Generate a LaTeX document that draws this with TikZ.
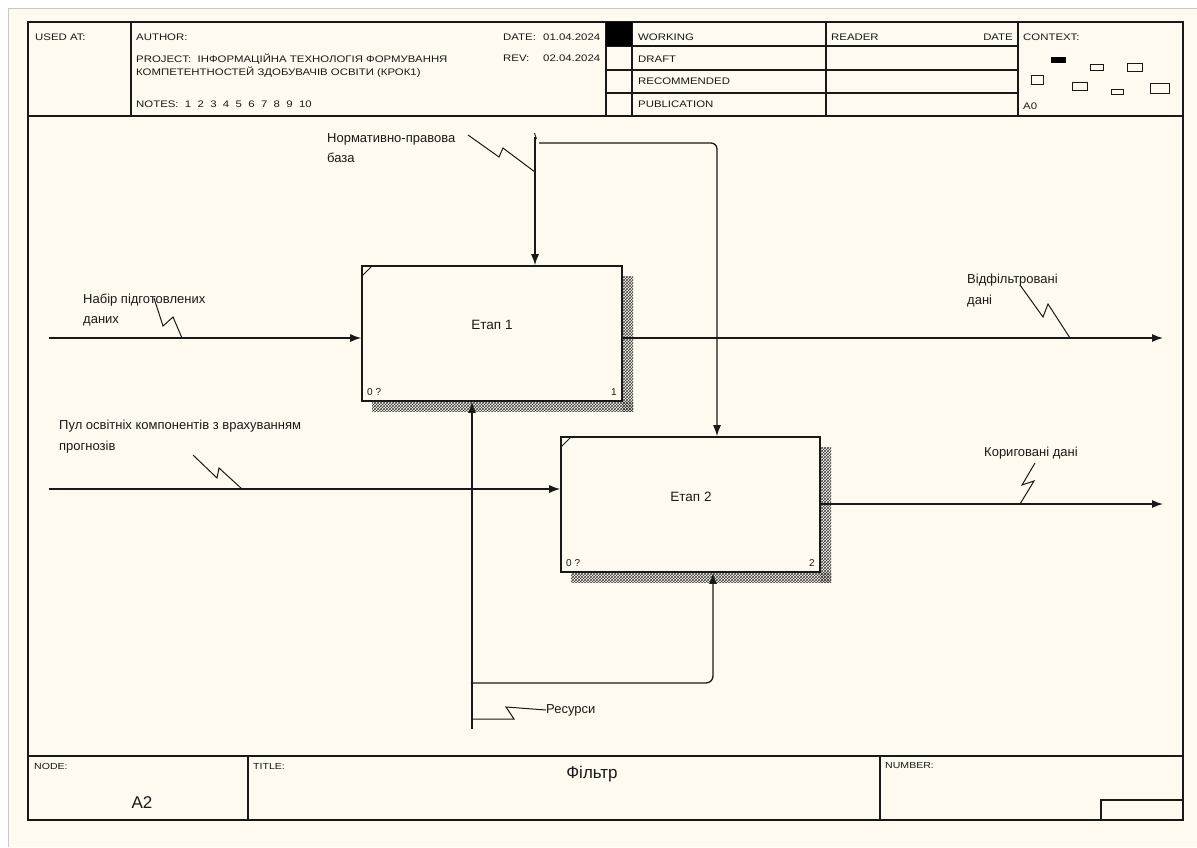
\documentclass[tikz,border=0pt]{standalone}
\usepackage{fontspec}
\setmainfont{Liberation Sans}
\usetikzlibrary{arrows.meta,patterns}
\definecolor{paper}{RGB}{255,250,240}
\definecolor{ink}{RGB}{25,25,25}
\definecolor{pageedge}{RGB}{200,200,200}
\newcommand\hx[1]{\scalebox{1.2}[1]{#1}}
\tikzset{
  frameline/.style={draw=ink, line width=1.6pt},
  cellline/.style={draw=ink, line width=1.3pt},
  hdr/.style={font=\fontsize{9.5}{11}\selectfont, inner sep=0pt, anchor=west, text=ink},
  ftr/.style={font=\fontsize{8.8}{10}\selectfont, inner sep=0pt, anchor=west, text=ink},
  big/.style={font=\fontsize{17}{20}\selectfont, inner sep=0pt, text=ink},
  lbl/.style={font=\fontsize{13}{20.5}\selectfont, inner sep=0pt, anchor=north west, align=left, text=ink},
  actbox/.style={draw=ink, line width=1.6pt, fill=paper, inner sep=0pt},
  acttext/.style={font=\fontsize{13.5}{16}\selectfont, inner sep=0pt, text=ink},
  boxno/.style={font=\fontsize{10}{12}\selectfont, inner sep=0pt, text=ink},
  arr/.style={draw=ink, line width=1.3pt, -{Latex[length=11pt,width=8pt]}},
  squig/.style={draw=ink, line width=1pt},
  hatch/.style={pattern=crosshatch, pattern color=black!75},
}
\begin{document}
\begin{tikzpicture}[x=1pt,y=-1pt]
\useasboundingbox (0,0) rectangle (1197,847);
\fill[white] (0,0) rectangle (1197,847);
\fill[paper] (8,8) rectangle (1197,847);
\draw[pageedge, line width=0.8pt] (8,847) -- (8,8) -- (1197,8);

% ---------- frame ----------
\draw[frameline] (28,22) rectangle (1183,820);
\draw[frameline] (28,116) -- (1183,116);
\draw[frameline] (28,756) -- (1183,756);
% header columns
\foreach \xx in {131,606,632,826,1018} \draw[cellline] (\xx,22) -- (\xx,116);
\foreach \yy in {46,70,93} \draw[cellline] (606,\yy) -- (1018,\yy);
\fill[black] (606,22) rectangle (632,46);
% footer columns
\draw[cellline] (248,756) -- (248,820);
\draw[cellline] (880,756) -- (880,820);
\draw[cellline] (1101,820) -- (1101,800) -- (1183,800);

% ---------- header texts ----------
\node[hdr] (usedat) at (35,37) {\hx{USED AT:}};
\node[hdr] (author) at (136,37) {\hx{AUTHOR:}};
\node[hdr] (proj1) at (136,59) {\hx{PROJECT:\ \ ІНФОРМАЦІЙНА ТЕХНОЛОГІЯ ФОРМУВАННЯ}};
\node[hdr] (proj2) at (136,72) {\hx{КОМПЕТЕНТНОСТЕЙ ЗДОБУВАЧІВ ОСВІТИ (КРОК1)}};
\node[hdr] (notes) at (136,104) {\hx{NOTES:\ \ 1\ \ 2\ \ 3\ \ 4\ \ 5\ \ 6\ \ 7\ \ 8\ \ 9\ \ 10}};
\node[hdr] (datel) at (503,37) {\hx{DATE:}};
\node[hdr] (datev) at (543,37) {\hx{01.04.2024}};
\node[hdr] (revl) at (503,58) {\hx{REV:}};
\node[hdr] (revv) at (543,58) {\hx{02.04.2024}};
\node[hdr] (working) at (638,37) {\hx{WORKING}};
\node[hdr] (draft) at (638,59) {\hx{DRAFT}};
\node[hdr] (recom) at (638,81) {\hx{RECOMMENDED}};
\node[hdr] (publ) at (638,104) {\hx{PUBLICATION}};
\node[hdr] (reader) at (831,37) {\hx{READER}};
\node[hdr, anchor=east] (rdate) at (1013,37) {\hx{DATE}};
\node[hdr] (context) at (1023,37) {\hx{CONTEXT:}};
\node[hdr] (azero) at (1023,106) {\hx{A0}};
% context thumbnails
\fill[black] (1051,57) rectangle (1066,63);
\draw[ink, line width=1pt] (1090,64) rectangle (1103,70);
\draw[ink, line width=1pt] (1127,63) rectangle (1142,71);
\draw[ink, line width=1pt] (1031,75) rectangle (1043,84);
\draw[ink, line width=1pt] (1072,82) rectangle (1087,90);
\draw[ink, line width=1pt] (1111,89) rectangle (1123,94);
\draw[ink, line width=1pt] (1150,83) rectangle (1169,93);

% ---------- footer texts ----------
\node[ftr] (nodel) at (34,766) {\hx{NODE:}};
\node[ftr] (titlel) at (253,766) {\hx{TITLE:}};
\node[ftr] (numl) at (885,766) {\hx{NUMBER:}};
\node[big] (nodeno) at (142,803) {A2};
\node[big] (title) at (592,774) {Фільтр};

% ---------- activity boxes ----------
\fill[hatch] (622,276) rectangle (633,411);
\fill[hatch] (372,401) rectangle (633,411);
\fill[hatch] (820,447) rectangle (831,582);
\fill[hatch] (571,572) rectangle (831,582);
\node[actbox, minimum width=260pt, minimum height=135pt] (b1) at (492,333.5) {};
\node[actbox, minimum width=259pt, minimum height=135pt] (b2) at (690.5,504.5) {};
\draw[ink, line width=1pt] (362,276) -- (372,266);
\draw[ink, line width=1pt] (561,447) -- (571,437);
\node[acttext] (t1) at (492,325) {Етап 1};
\node[acttext] (t2) at (691,497) {Етап 2};
\node[boxno, anchor=west] (z1) at (367,392) {0 ?};
\node[boxno, anchor=east] (n1) at (617,392) {1};
\node[boxno, anchor=west] (z2) at (566,563) {0 ?};
\node[boxno, anchor=east] (n2) at (815,563) {2};

% ---------- arrows ----------
\coordinate (in1) at (49,338);
\draw[arr] (in1) -- (in1 -| b1.west);
\coordinate (out1) at (1163,338);
\draw[arr] (b1.east |- out1) -- (out1);
\coordinate (in2) at (49,489);
\draw[arr] (in2) -- (in2 -| b2.west);
\coordinate (out2) at (1163,504);
\draw[arr] (b2.east |- out2) -- (out2);
% control
\coordinate (ctl) at (535,137);
\draw[arr] (ctl) -- (ctl |- b1.north);
\draw[ink, line width=0.9pt] (534.5,133) -- (536.5,139);
\coordinate (ctlb) at (539,143);
\coordinate (ctlc) at (717,143);
\draw[arr, rounded corners=6pt] (ctlb) -- (ctlc) -- (ctlc |- b2.north);
% mechanism
\coordinate (mech) at (472,729);
\draw[arr] (mech) -- (mech |- b1.south);
\coordinate (mb) at (472,683);
\coordinate (mc) at (713,683);
\draw[arr, rounded corners=7pt] (mb) -- (mc) -- (mc |- b2.south);
\fill[ink] (mb) circle (1.4pt);

% ---------- labels ----------
\node[lbl] (l1) at (327,133.3) {Нормативно-правова\\база};
\node[lbl] (l2) at (83,293.3) {Набір підготовлених\\даних};
\node[lbl] (l3) at (967,274.3) {Відфільтровані\\дані};
\node[lbl] (l4) at (59,420.3) {Пул освітніх компонентів з врахуванням\\прогнозів};
\node[lbl] (l5) at (984,447.3) {Кориговані дані};
\node[lbl, anchor=west] (l6) at (546,710) {Ресурси};

% squiggles
\draw[squig] (468,135) -- (499,157) -- (503,148) -- (535,172);
\draw[squig] (154,298) -- (163,326) -- (173,317) -- (182,338);
\draw[squig] (1020,285) -- (1043,317) -- (1048,304) -- (1070,338);
\draw[squig] (193,455) -- (217,478) -- (219,468) -- (242,489);
\draw[squig] (1035,463) -- (1022,485) -- (1034,481) -- (1020,504);
\draw[squig] (l6.west) -- (506,707) -- (514,719) -- (472,719);
\end{tikzpicture}
\end{document}
